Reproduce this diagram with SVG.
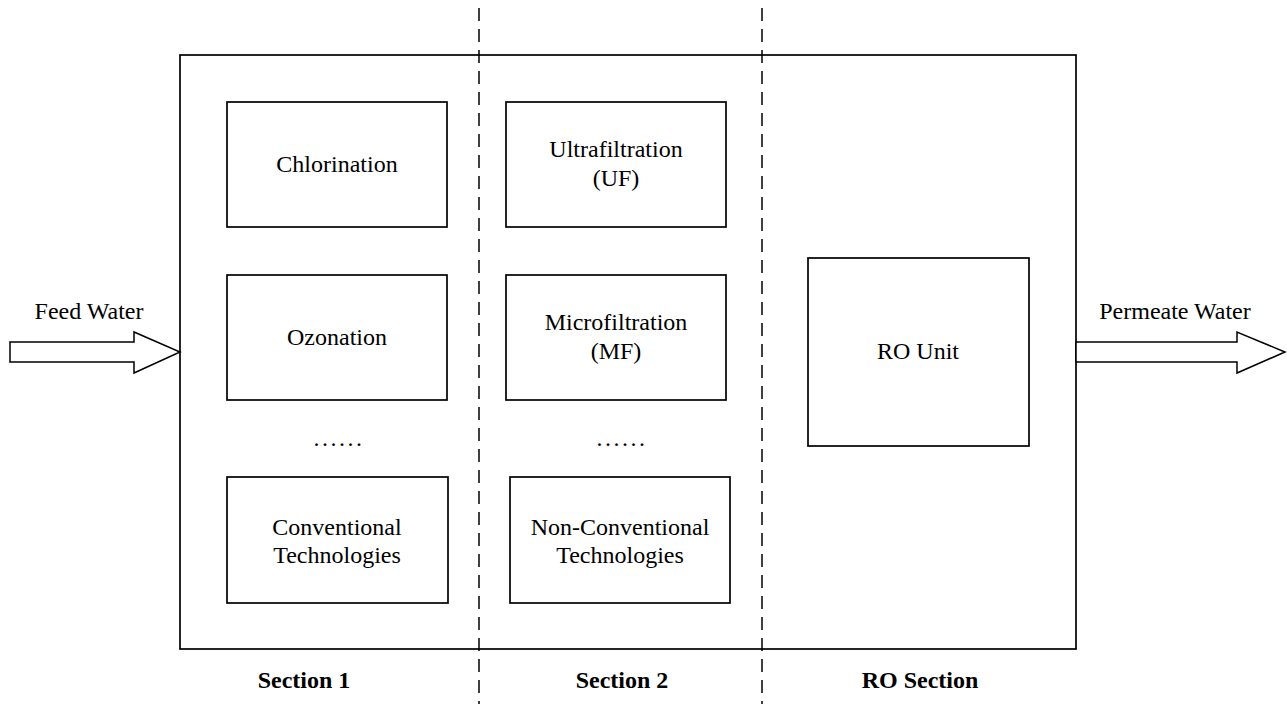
<svg xmlns="http://www.w3.org/2000/svg" width="1287" height="704" viewBox="0 0 1287 704">
  <style>
    .box { fill: #ffffff; stroke: #000000; stroke-width: 1.7; }
    .frame { fill: none; stroke: #000000; stroke-width: 1.7; }
    .divider { stroke: #000000; stroke-width: 1.5; stroke-dasharray: 13 8; fill: none; }
    .flow { fill: #ffffff; stroke: #000000; stroke-width: 1.5; stroke-linejoin: miter; }
    .lbl { font-family: "Liberation Serif", "Times New Roman", serif; font-size: 24px; fill: #000000; text-anchor: middle; }
    .dots { letter-spacing: 2.5px; }
    .sec { font-family: "Liberation Serif", "Times New Roman", serif; font-size: 24px; font-weight: bold; fill: #000000; text-anchor: middle; }
  </style>

  <!-- treatment train enclosure -->
  <rect id="enclosure" class="frame" x="180" y="55" width="896" height="594"/>

  <!-- section dividers -->
  <g id="dividers">
    <line class="divider" x1="479" y1="8" x2="479" y2="704"/>
    <line class="divider" x1="762" y1="8" x2="762" y2="704"/>
  </g>

  <!-- Section 1 -->
  <g id="chlorination">
    <rect class="box" x="227" y="102" width="220" height="125"/>
    <text class="lbl" x="337" y="172">Chlorination</text>
  </g>
  <g id="ozonation">
    <rect class="box" x="227" y="275" width="220" height="125"/>
    <text class="lbl" x="337" y="345">Ozonation</text>
  </g>
  <text id="more-1" class="lbl dots" x="339" y="446">......</text>
  <g id="conventional">
    <rect class="box" x="227" y="477" width="221" height="126"/>
    <text class="lbl" x="337" y="535">Conventional</text>
    <text class="lbl" x="337" y="563">Technologies</text>
  </g>

  <!-- Section 2 -->
  <g id="ultrafiltration">
    <rect class="box" x="506" y="102" width="220" height="125"/>
    <text class="lbl" x="616" y="157">Ultrafiltration</text>
    <text class="lbl" x="616" y="186">(UF)</text>
  </g>
  <g id="microfiltration">
    <rect class="box" x="506" y="275" width="220" height="125"/>
    <text class="lbl" x="616" y="330">Microfiltration</text>
    <text class="lbl" x="616" y="359">(MF)</text>
  </g>
  <text id="more-2" class="lbl dots" x="622" y="446">......</text>
  <g id="non-conventional">
    <rect class="box" x="510" y="477" width="220" height="126"/>
    <text class="lbl" x="620" y="535">Non-Conventional</text>
    <text class="lbl" x="620" y="563">Technologies</text>
  </g>

  <!-- RO section -->
  <g id="ro-unit">
    <rect class="box" x="808" y="258" width="221" height="188"/>
    <text class="lbl" x="918" y="359">RO Unit</text>
  </g>

  <!-- inlet / outlet flows -->
  <g id="connectors">
    <polygon class="flow" points="10,342 134,342 134,332 180,352 134,373 134,362 10,362"/>
    <polygon class="flow" points="1076,342 1237,342 1237,332 1285,352 1237,373 1237,362 1076,362"/>
  </g>
  <text id="feed-label" class="lbl" x="89" y="319">Feed Water</text>
  <text id="permeate-label" class="lbl" x="1175" y="319">Permeate Water</text>

  <!-- section captions -->
  <text id="sec1" class="sec" x="304" y="688">Section 1</text>
  <text id="sec2" class="sec" x="622" y="688">Section 2</text>
  <text id="sec3" class="sec" x="920" y="688">RO Section</text>
</svg>
